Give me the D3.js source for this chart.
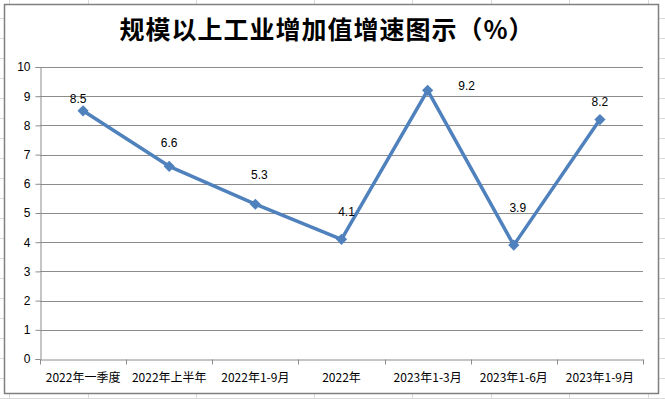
<!DOCTYPE html>
<html>
<head>
<meta charset="utf-8">
<script src="https://cdn.jsdelivr.net/npm/d3@7"></script>
<style>
  html, body { margin: 0; padding: 0; background: #fff; }
  svg { display: block; }
</style>
</head>
<body>
<svg id="chart"></svg>
<script>
// data
const categories = ["2022年一季度", "2022年上半年", "2022年1-9月", "2022年", "2023年1-3月", "2023年1-6月", "2023年1-9月"];
const values = [8.5, 6.6, 5.3, 4.1, 9.2, 3.9, 8.2];
const yTicks = [0, 1, 2, 3, 4, 5, 6, 7, 8, 9, 10];
const title = "规模以上工业增加值增速图示（%）";

// label nudges (px) relative to each point, as placed in the original
const labelOffsets = [[-5, -12], [0, -23], [4, -29], [5, -27], [39, -5], [4, -37], [0, -18]];

// spreadsheet cells behind the chart
const sheetCols = [9, 88, 196, 314, 412, 491, 569, 648];

const W = 665, H = 399;
const margin = { top: 67, right: 22, bottom: 40, left: 40 };
const width = W - margin.left - margin.right;
const height = H - margin.top - margin.bottom;

const lineColor = "#4f81bd";
const gridColor = "#8c8c8c";

const svg = d3.select("#chart").attr("width", W).attr("height", H);

// sheet grid
const sheet = svg.append("g").attr("stroke", "#dadada").attr("stroke-width", 1);
sheet.selectAll("line.c").data(sheetCols).enter().append("line")
  .attr("x1", d => d + 0.5).attr("x2", d => d + 0.5).attr("y1", 0).attr("y2", H);
sheet.selectAll("line.r").data(d3.range(19, H + 1, 20)).enter().append("line")
  .attr("y1", d => d - 0.5).attr("y2", d => d - 0.5).attr("x1", 0).attr("x2", W);

// chart frame
svg.append("rect")
  .attr("x", 4.5).attr("y", 4.5).attr("width", 654).attr("height", 389)
  .attr("fill", "#fff").attr("stroke", "#7f7f7f").attr("stroke-width", 1.5);

// title
svg.append("text")
  .attr("x", 327).attr("y", 39)
  .attr("text-anchor", "middle")
  .attr("font-family", "'Noto Sans CJK SC', sans-serif")
  .attr("font-weight", "bold")
  .attr("font-size", 25)
  .attr("letter-spacing", 1)
  .attr("fill", "#000")
  .text(title);

const g = svg.append("g").attr("transform", `translate(${margin.left},${margin.top})`);

const x = d3.scaleBand().domain(categories).range([0, width]).padding(0);
const y = d3.scaleLinear().domain([0, 10]).range([height, 0]);

// horizontal grid
g.append("g")
  .selectAll("line")
  .data(yTicks.filter(d => d > 0))
  .enter().append("line")
  .attr("x1", 0).attr("x2", width)
  .attr("y1", d => Math.round(y(d)) + 0.5).attr("y2", d => Math.round(y(d)) + 0.5)
  .attr("stroke", gridColor).attr("stroke-width", 1);

// y axis
const yAxis = g.append("g")
  .attr("transform", "translate(0.5,0)")
  .call(d3.axisLeft(y).tickValues(yTicks).tickSize(5).tickPadding(5).tickFormat(d3.format("d")));
yAxis.selectAll("path, line").attr("stroke", gridColor);
yAxis.selectAll("text")
  .attr("font-family", "'Liberation Sans', Arial, sans-serif")
  .attr("font-size", 12).attr("fill", "#000");

// x axis
const xAxis = g.append("g")
  .attr("transform", `translate(0,${height + 0.5})`)
  .call(d3.axisBottom(x).tickSize(0).tickPadding(14));
xAxis.select(".domain").attr("stroke", gridColor);
xAxis.selectAll("text")
  .attr("font-family", "'Noto Sans CJK SC', sans-serif")
  .attr("font-size", 12).attr("fill", "#000");
// tick marks between categories
xAxis.selectAll("line.sep")
  .data(d3.range(categories.length + 1))
  .enter().append("line")
  .attr("class", "sep")
  .attr("x1", i => Math.round(i * x.step()) + 0.5).attr("x2", i => Math.round(i * x.step()) + 0.5)
  .attr("y1", 0).attr("y2", 5)
  .attr("stroke", gridColor);

const cx = d => x(d) + x.bandwidth() / 2;

// line
const line = d3.line()
  .x((d, i) => cx(categories[i]))
  .y(d => y(d));

g.append("path")
  .datum(values)
  .attr("d", line)
  .attr("fill", "none")
  .attr("stroke", lineColor)
  .attr("stroke-width", 3.5)
  .attr("stroke-linejoin", "round");

// diamond markers
g.selectAll("path.marker")
  .data(values)
  .enter().append("path")
  .attr("class", "marker")
  .attr("d", d3.symbol().type(d3.symbolDiamond2).size(80))
  .attr("transform", (d, i) => `translate(${cx(categories[i])},${y(d)})`)
  .attr("fill", lineColor);

// data labels
g.selectAll("text.lbl")
  .data(values)
  .enter().append("text")
  .attr("class", "lbl")
  .attr("x", (d, i) => cx(categories[i]) + labelOffsets[i][0])
  .attr("y", (d, i) => y(d) + labelOffsets[i][1])
  .attr("dy", "0.35em")
  .attr("text-anchor", "middle")
  .attr("font-family", "'Liberation Sans', Arial, sans-serif")
  .attr("font-size", 12)
  .attr("fill", "#000")
  .text(d => d3.format(".1f")(d));
</script>
</body>
</html>
